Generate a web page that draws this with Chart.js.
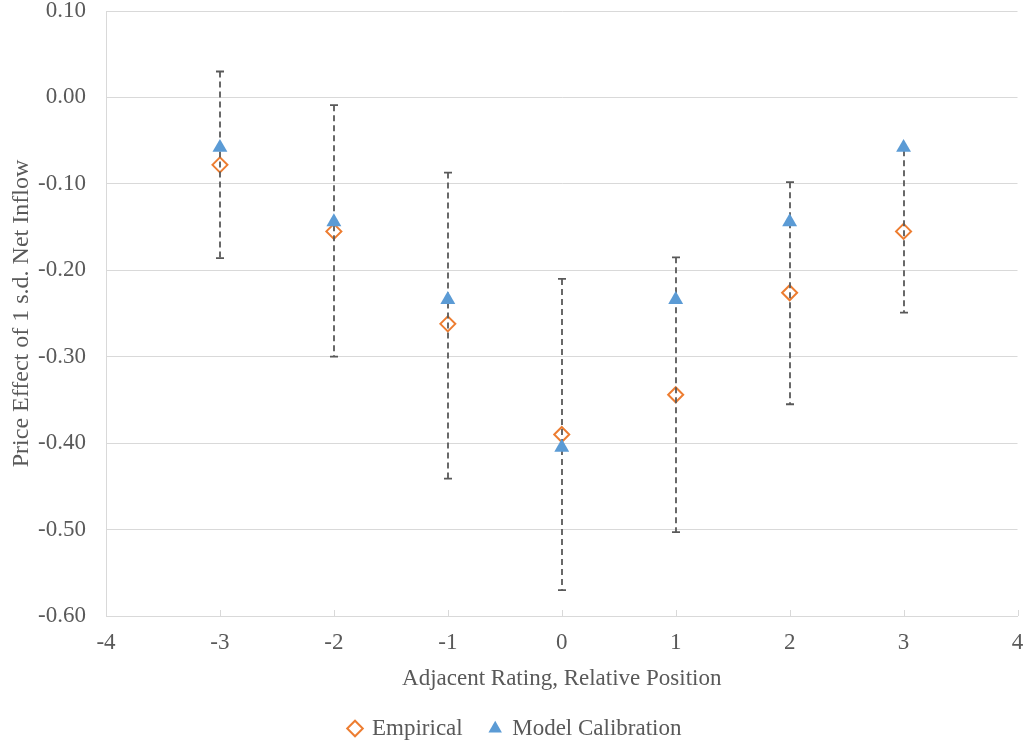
<!DOCTYPE html>
<html>
<head>
<meta charset="utf-8">
<script src="https://cdn.jsdelivr.net/npm/chart.js@4/dist/chart.umd.min.js"></script>
<style>
  html, body { margin: 0; padding: 0; background: #ffffff; }
  #wrap { width: 1027px; height: 744px; }
</style>
</head>
<body>
<div id="wrap"><canvas id="chart" width="1027" height="744"></canvas></div>
<script>
// Relative position of the adjacent rating
const positions = [-3, -2, -1, 0, 1, 2, 3];
// Empirical price effect and its confidence band
const empirical = [-0.078, -0.155, -0.262, -0.390, -0.344, -0.226, -0.155];
const errorHigh = [0.030, -0.009, -0.087, -0.210, -0.185, -0.098, -0.061];
const errorLow = [-0.186, -0.300, -0.441, -0.570, -0.503, -0.355, -0.249];
// Model-implied price effect
const modelCalibration = [-0.058, -0.144, -0.234, -0.405, -0.234, -0.144, -0.058];
// Axis ticks
const xTicks = [-4, -3, -2, -1, 0, 1, 2, 3, 4];
const yTicks = [0.10, 0.00, -0.10, -0.20, -0.30, -0.40, -0.50, -0.60];

const FONT = '"Liberation Serif", "Times New Roman", serif';
const TEXT = '#595959';
const GRID = '#d9d9d9';
const ORANGE = '#ED7D31';
const BLUE = '#5B9BD5';
const CLEAR = 'rgba(0,0,0,0)';

// Dashed whisker bars drawn right after the empirical markers
const errorBars = {
  id: 'errorBars',
  afterDatasetDraw(chart, args) {
    if (args.index !== 0) return;
    const { ctx, scales: { x, y } } = chart;
    ctx.save();
    ctx.strokeStyle = '#595959';
    ctx.lineWidth = 1.8;
    positions.forEach((p, i) => {
      const px = Math.round(x.getPixelForValue(p));
      const yTop = y.getPixelForValue(errorHigh[i]);
      const yBot = y.getPixelForValue(errorLow[i]);
      ctx.setLineDash([6, 4]);
      ctx.beginPath();
      ctx.moveTo(px, yTop);
      ctx.lineTo(px, yBot);
      ctx.stroke();
      ctx.setLineDash([]);
      ctx.beginPath();
      ctx.moveTo(px - 4, yTop);
      ctx.lineTo(px + 4, yTop);
      ctx.moveTo(px - 4, yBot);
      ctx.lineTo(px + 4, yBot);
      ctx.stroke();
    });
    ctx.restore();
  }
};

// Small inward tick marks on the horizontal axis
const innerTicks = {
  id: 'innerTicks',
  beforeDatasetsDraw(chart) {
    const { ctx, chartArea, scales: { x } } = chart;
    ctx.save();
    ctx.strokeStyle = GRID;
    ctx.lineWidth = 1;
    xTicks.forEach(t => {
      const px = Math.round(x.getPixelForValue(t)) + 0.5;
      ctx.beginPath();
      ctx.moveTo(px, chartArea.bottom);
      ctx.lineTo(px, chartArea.bottom - 6);
      ctx.stroke();
    });
    ctx.restore();
  }
};

new Chart(document.getElementById('chart'), {
  type: 'scatter',
  data: {
    datasets: [
      {
        label: 'Empirical',
        data: positions.map((p, i) => ({ x: p, y: empirical[i] })),
        pointStyle: 'rectRot',
        pointRadius: 7.5,
        pointBorderWidth: 2,
        borderColor: ORANGE,
        backgroundColor: CLEAR,
        order: 1
      },
      {
        label: 'Model Calibration',
        data: positions.map((p, i) => ({ x: p, y: modelCalibration[i] })),
        pointStyle: 'triangle',
        pointRadius: 8.6,
        pointBorderWidth: 0,
        borderColor: BLUE,
        backgroundColor: BLUE,
        order: 0
      }
    ]
  },
  options: {
    responsive: false,
    animation: false,
    layout: { padding: { left: 12, right: 8, top: 11, bottom: -6 } },
    plugins: {
      tooltip: { enabled: false },
      legend: {
        position: 'bottom',
        labels: {
          usePointStyle: true,
          boxWidth: 11,
          boxHeight: 11,
          padding: 27,
          color: TEXT,
          font: { family: FONT, size: 23 },
          generateLabels(chart) {
            return chart.data.datasets.map((ds, i) => ({
              text: ds.label,
              datasetIndex: i,
              pointStyle: ds.pointStyle,
              fillStyle: i === 0 ? '#ffffff' : BLUE,
              strokeStyle: i === 0 ? ORANGE : BLUE,
              lineWidth: i === 0 ? 2 : 0,
              fontColor: TEXT,
              hidden: false
            }));
          }
        }
      }
    },
    scales: {
      x: {
        type: 'linear',
        min: -4,
        max: 4,
        afterBuildTicks: s => { s.ticks = xTicks.map(v => ({ value: v })); },
        afterFit: s => { s.height = 74; },
        grid: { display: true, drawOnChartArea: false, drawTicks: true, tickLength: 13, tickColor: CLEAR, color: GRID },
        border: { display: true, color: GRID, width: 1 },
        ticks: {
          padding: 0,
          color: TEXT,
          font: { family: FONT, size: 23 },
          callback: v => String(v)
        },
        title: {
          display: true,
          text: 'Adjacent Rating, Relative Position',
          color: TEXT,
          font: { family: FONT, size: 23 },
          padding: { top: 0, bottom: -3 }
        }
      },
      y: {
        type: 'linear',
        min: -0.6,
        max: 0.1,
        afterBuildTicks: s => { s.ticks = yTicks.map(v => ({ value: v })); },
        afterFit: s => { s.width = 94; },
        grid: { color: GRID, drawTicks: true, tickLength: 20, tickColor: CLEAR, lineWidth: 1 },
        border: { display: true, color: GRID, width: 1 },
        ticks: {
          padding: 0,
          color: TEXT,
          font: { family: FONT, size: 23, lineHeight: 0.9 },
          callback: v => (Math.abs(v) < 1e-9 ? '0.00' : v.toFixed(2))
        },
        title: {
          display: true,
          text: 'Price Effect of 1 s.d. Net Inflow',
          color: TEXT,
          font: { family: FONT, size: 24 },
          padding: { top: -5, bottom: 0 }
        }
      }
    }
  },
  plugins: [errorBars, innerTicks]
});
</script>
</body>
</html>
